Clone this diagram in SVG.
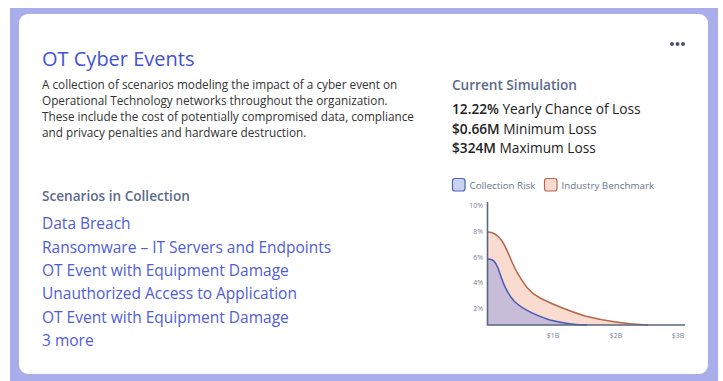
<svg xmlns="http://www.w3.org/2000/svg" width="723" height="381" viewBox="0 0 723 381">
<style>
.f{font-family:"Open Sans","Noto Sans","Liberation Sans",sans-serif}
.desc{font-size:11.75px;fill:#333}
.h2{font-size:13.6px;fill:#5b6a8c;font-weight:600}
.stat{font-size:13.7px;fill:#222}
.link{font-size:15.5px;fill:#4f5cd8}
.tick{font-size:7px;fill:#7a84a0}
.leg{font-size:9.8px;fill:#6b7590}
</style>
<rect x="0" y="0" width="723" height="381" fill="#ffffff"/>
<rect x="10" y="8" width="708" height="373" fill="#a9aeea"/>
<g id="card">
<rect x="19" y="14" width="689" height="360" rx="9" fill="#ffffff"/>
</g>
<g id="menu" fill="#4b5170">
<circle cx="672" cy="44" r="2"/><circle cx="677.5" cy="44" r="2"/><circle cx="683" cy="44" r="2"/>
</g>
<g id="header" class="f">
<text x="42" y="66" font-size="20" fill="#4352d6">OT Cyber Events</text>
<text class="desc" x="42" y="89">A collection of scenarios modeling the impact of a cyber event on</text>
<text class="desc" x="42" y="105">Operational Technology networks throughout the organization.</text>
<text class="desc" x="42" y="121">These include the cost of potentially compromised data, compliance</text>
<text class="desc" x="42" y="136.5">and privacy penalties and hardware destruction.</text>
</g>
<g id="simulation" class="f">
<text class="h2" x="452" y="89.5">Current Simulation</text>
<text class="stat" x="452" y="114"><tspan font-weight="600">12.22%</tspan> Yearly Chance of Loss</text>
<text class="stat" x="452" y="133.5"><tspan font-weight="600">$0.66M</tspan> Minimum Loss</text>
<text class="stat" x="452" y="152.5"><tspan font-weight="600">$324M</tspan> Maximum Loss</text>
</g>
<g id="scenarios" class="f">
<text class="h2" x="42" y="201">Scenarios in Collection</text>
<text class="link" x="42" y="229">Data Breach</text>
<text class="link" x="42" y="252.5">Ransomware – IT Servers and Endpoints</text>
<text class="link" x="42" y="276">OT Event with Equipment Damage</text>
<text class="link" x="42" y="299">Unauthorized Access to Application</text>
<text class="link" x="42" y="322.5">OT Event with Equipment Damage</text>
<text class="link" x="42" y="346">3 more</text>
</g>
<g id="legend" class="f">
<rect x="452.5" y="178.5" width="12.5" height="12.5" rx="2.5" fill="#c9d3f1" stroke="#4a62b8" stroke-width="1.2"/>
<text class="leg" x="469.5" y="188.5">Collection Risk</text>
<rect x="544.5" y="178.5" width="12.5" height="12.5" rx="2.5" fill="#fadbd0" stroke="#b7664c" stroke-width="1.2"/>
<text class="leg" x="561.5" y="188.5">Industry Benchmark</text>
</g>
<g id="chart">
<path d="M488,232 C493,232 497,234 502,241 C508,250 511,262 518,274 C524,284 528,291 540,298 C552,304 566,310 585,316 C605,321 625,324 648,325 L488,325 Z" fill="#fadbd0"/>
<path d="M488,259 C493,259 495,261 498,268 C502,280 506,292 514,301 C522,309 532,314 550,320 C562,323 572,325 587,325 L488,325 Z" fill="#c7bdd8"/>
<path d="M488,232 C493,232 497,234 502,241 C508,250 511,262 518,274 C524,284 528,291 540,298 C552,304 566,310 585,316 C605,321 625,324 648,325" fill="none" stroke="#b7664c" stroke-width="1.5"/>
<path d="M488,259 C493,259 495,261 498,268 C502,280 506,292 514,301 C522,309 532,314 550,320 C562,323 572,325 587,325" fill="none" stroke="#4a5bb5" stroke-width="1.5"/>
<path d="M487.5,202 V325 H685" fill="none" stroke="#5a6684" stroke-width="1.6"/>
<g class="f tick" text-anchor="end">
<text x="483" y="208">10%</text>
<text x="483" y="234">8%</text>
<text x="483" y="259.5">6%</text>
<text x="483" y="285">4%</text>
<text x="483" y="310.5">2%</text>
</g>
<g class="f tick" text-anchor="middle">
<text x="553" y="338">$1B</text>
<text x="616" y="338">$2B</text>
<text x="678" y="338">$3B</text>
</g>
</g>
</svg>
